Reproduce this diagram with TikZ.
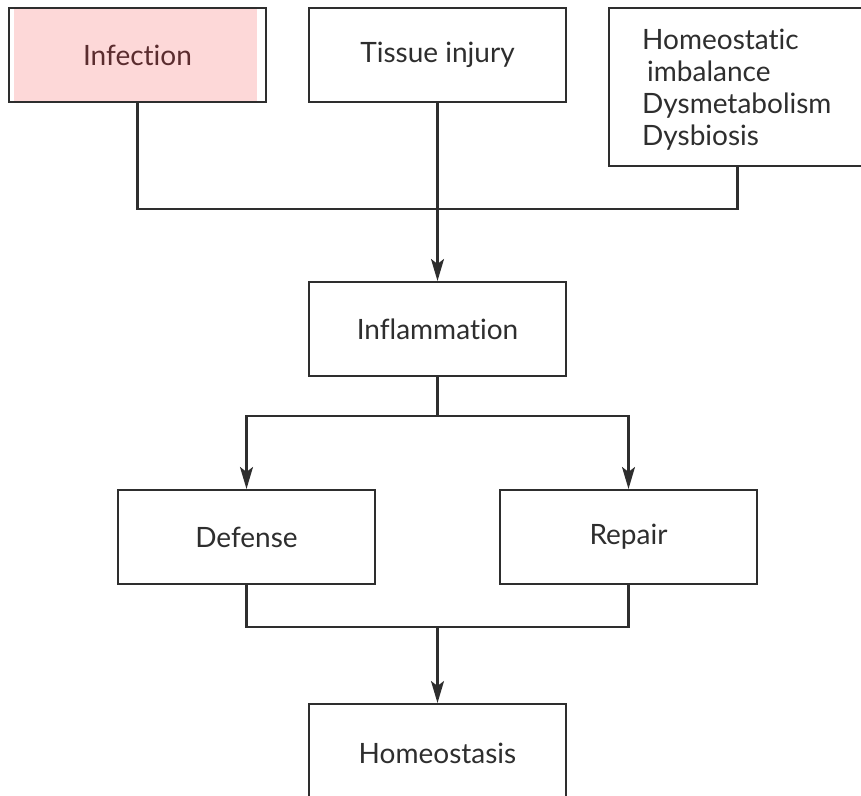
\documentclass[tikz,border=0pt]{standalone}
\usepackage{fontspec}
\setmainfont{Lato}[Ligatures=NoCommon]
\usetikzlibrary{arrows.meta}
\definecolor{ink}{HTML}{2E2E2E}
\definecolor{pinkfill}{HTML}{FDD8D8}
\definecolor{redtext}{HTML}{5A2C2E}
\begin{document}
\begin{tikzpicture}[x=1pt,y=-1pt,
  txt/.style={text=ink, font=\fontsize{28}{32}\selectfont},
  box/.style={txt, draw=ink, line width=2.1pt, minimum width=257pt, minimum height=94pt, inner sep=0pt},
  conn/.style={draw=ink, line width=2.1pt},
  arr/.style={conn, -{Stealth[length=22pt,width=13pt,inset=5pt]}}]
\useasboundingbox (0,0) rectangle (861,795);
\clip (0,0) rectangle (861,795);
\fill[white] (0,0) rectangle (861,795);
% pink fill slightly inset
\fill[pinkfill] (14,9) rectangle (257,101);
\node[box, text=redtext] (inf) at (137.5,55) {Infection};
\node[box] (tis) at (437.5,55) {Tissue injury};
\node[box, minimum height=158pt] (hom) at (737.5,87) {};
\node[txt, anchor=north west, align=left, inner sep=0pt] (homtxt) at (642,29) {Homeostatic\\\hspace*{5pt}imbalance\\Dysmetabolism\\Dysbiosis};
\node[box] (infl) at (437.5,329) {Inflammation};
\node[box] (def) at (246.5,537) {Defense};
\node[box] (rep) at (628.5,537) {Repair};
\node[box, minimum height=104pt, anchor=north] (homeo) at (437.5,703) {\raisebox{5pt}{Homeostasis}};
\coordinate (j1) at (437.5,209);
\coordinate (j2) at (437.5,416);
\coordinate (j3) at (437.5,627);
\draw[conn] (inf.south) |- (j1) -| (hom.south);
\draw[arr] (tis.south) -- (infl.north);
\draw[conn] (infl.south) -- (j2);
\draw[arr] (j2) -| (def.north);
\draw[arr] (j2) -| (rep.north);
\draw[conn] (def.south) |- (j3) -| (rep.south);
\draw[arr] (j3) -- (homeo.north);
\end{tikzpicture}
\end{document}
